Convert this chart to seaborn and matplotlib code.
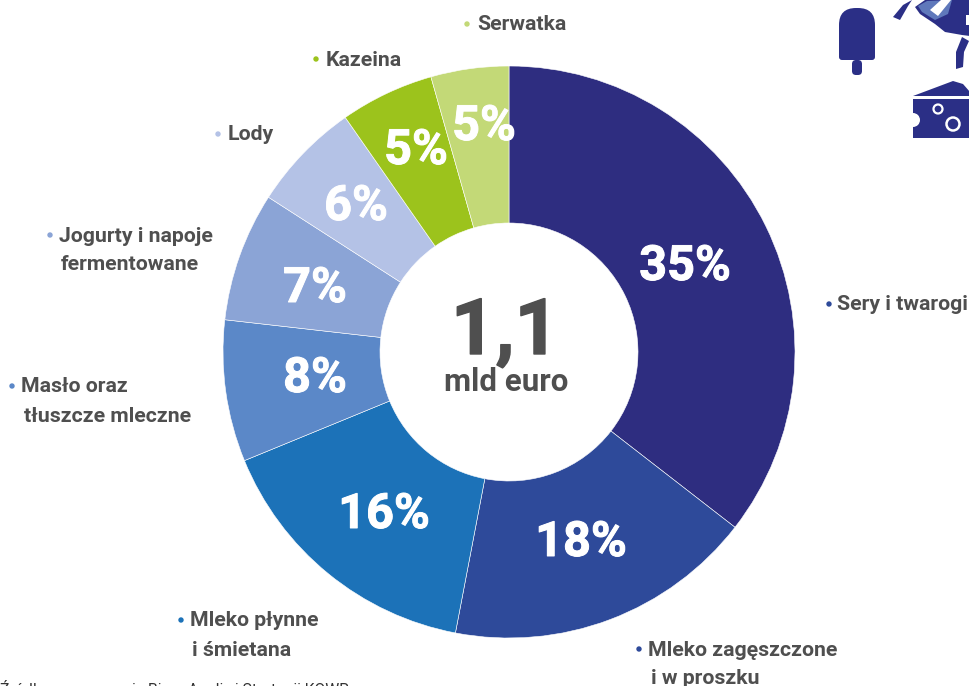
import matplotlib
matplotlib.use("Agg")
import matplotlib.pyplot as plt
import matplotlib.patheffects as pe
from matplotlib.patches import Polygon, FancyBboxPatch, Circle
import seaborn as sns

sns.set_theme(style="white")
plt.rcParams['font.family'] = ['Roboto', 'DejaVu Sans']

categories = ["Sery i twarogi", "Mleko zagęszczone\ni w proszku", "Mleko płynne\ni śmietana",
              "Masło oraz\ntłuszcze mleczne", "Jogurty i napoje\nfermentowane", "Lody", "Kazeina", "Serwatka"]
shares = [35.5, 17.5, 15.8, 8.0, 7.3, 6.2, 5.3, 4.4]
pct_labels = ["35%", "18%", "16%", "8%", "7%", "6%", "5%", "5%"]
hex_colors = ["#2e2d80", "#2e4a9a", "#1c72b8", "#5b88c8", "#8ba4d6", "#b4c2e6", "#9cc31c", "#c3d977"]
bullet_colors = ["#2e4a9a", "#2e4a9a", "#1c72b8", "#5b88c8", "#8ba4d6", "#b4c2e6", "#9cc31c", "#c3d977"]
colors = sns.color_palette(hex_colors)
pct_xy = [(685, 267), (581, 543), (384, 515), (315, 379), (315, 289), (356, 207), (416, 151), (484, 127)]
label_xy = [(837, 305), (648, 650), (190, 621), (21, 387), (59, 236), (228, 135), (326, 60), (477, 25)]
second_x = [None, 651, 192, 24, 61, None, None, None]
bullet_xy = [(829, 304), (639, 649), (181, 620), (12, 386), (50, 235), (218, 134), (316, 59), (467, 24)]
TEXT = "#4f4f4f"
ICON = "#2b2f86"

fig = plt.figure(figsize=(9.7, 6.86), dpi=100, facecolor="white")
ax = fig.add_axes([0, 0, 1, 1])
ax.pie(shares, colors=colors, startangle=-90, counterclock=True, center=(509, 352), radius=286,
       wedgeprops=dict(width=157, edgecolor="white", linewidth=0.4))
ax.set_xlim(0, 970)
ax.set_ylim(686, 0)
ax.set_aspect("equal")
ax.axis("off")

for t, (x, y) in zip(pct_labels, pct_xy):
    ax.text(x, y, t, color="white", fontsize=35, fontweight="bold", ha="center", va="center",
            path_effects=[pe.withStroke(linewidth=0.7, foreground="white")])

for name, (x, y), sx, (bx, by), col in zip(categories, label_xy, second_x, bullet_xy, bullet_colors):
    for i, ln in enumerate(name.split("\n")):
        ax.text(sx if i else x, y + 29 * i, ln, color=TEXT, fontsize=15.3, fontweight="bold",
                ha="left", va="center")
    ax.add_patch(Circle((bx, by), 2.7, color=col, lw=0))

ax.text(505, 333, "1,1", color=TEXT, fontsize=56, fontweight="bold", ha="center", va="center",
        path_effects=[pe.withStroke(linewidth=1.0, foreground=TEXT)])
ax.text(506, 382, "mld euro", color=TEXT, fontsize=22.5, fontweight="bold", ha="center", va="center")

ax.text(0, 680, "Źródło: opracowanie Biura Analiz i Strategii KOWR", color="#333333", fontsize=11.3,
        ha="left", va="top", clip_on=True)

# decorative icons
ax.add_patch(FancyBboxPatch((839, 8), 36, 52, boxstyle="round,pad=0,rounding_size=17", fc=ICON, ec="none"))
ax.add_patch(FancyBboxPatch((839, 35), 36, 25, boxstyle="round,pad=0,rounding_size=3", fc=ICON, ec="none"))
ax.add_patch(FancyBboxPatch((852, 60), 10, 15, boxstyle="round,pad=0,rounding_size=4", fc=ICON, ec="none"))
ax.add_patch(Polygon([(913, 96), (953, 81), (963, 84), (970, 92), (970, 96)], fc=ICON, ec="none"))
ax.add_patch(Polygon([(913, 99), (970, 99), (970, 138), (913, 138)], fc=ICON, ec="none"))
ax.add_patch(Circle((913, 120), 7, fc="white", ec="none"))
ax.add_patch(Circle((938, 109), 4.5, fc=ICON, ec="white", lw=1.6))
ax.add_patch(Circle((953, 124), 6.5, fc=ICON, ec="white", lw=1.8))
ax.add_patch(Polygon([(915, 7), (925, 0), (970, 0), (970, 36), (962, 35), (945, 32), (935, 24), (920, 14)],
                     fc=ICON, ec="none"))
ax.add_patch(Polygon([(918, 6), (927, 1), (952, 0), (948, 14), (935, 20), (922, 12)], fc="#5f78bb", ec="none"))
ax.add_patch(Polygon([(930, 10), (941, 0), (951, 0), (938, 16)], fc="white", ec="none"))
ax.add_patch(Polygon([(966, 15), (970, 15), (970, 25), (966, 25)], fc="white", ec="none"))
ax.add_patch(Polygon([(893, 17), (903, 5), (912, 0), (908, 6), (900, 20)], fc=ICON, ec="none"))
ax.add_patch(Polygon([(962, 37), (969, 41), (964, 52), (963, 67), (956, 69), (956, 52)], fc=ICON, ec="none"))

fig.savefig("out.png", dpi=100)
